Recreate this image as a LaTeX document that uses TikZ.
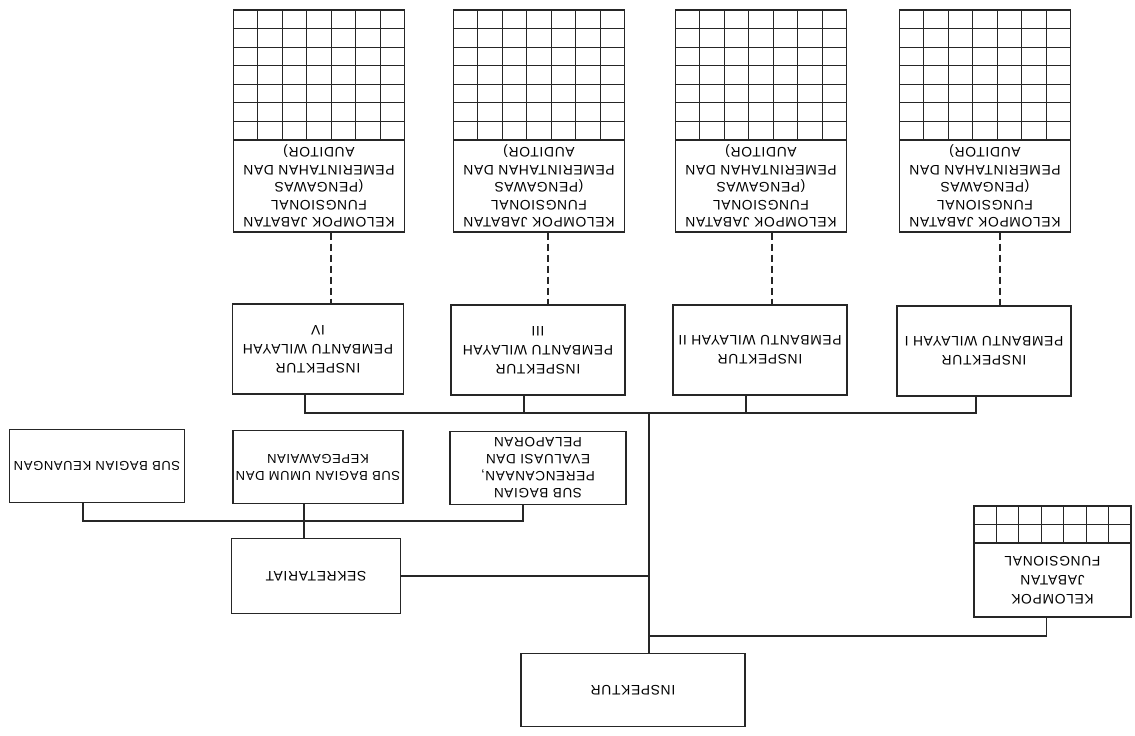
\documentclass[tikz,border=0pt]{standalone}
\usepackage{fontspec}
\setmainfont[LetterSpace=5]{Liberation Sans}
\newcommand{\gridbox}[6]{% x0, y0, w, h, rows, cols
  \draw[ln] (#1,#2) rectangle ({#1+#3},{#2+#4});
  \foreach \i in {1,...,\numexpr#6-1\relax} \draw[ln] ({#1+\i*#3/#6},#2) -- ({#1+\i*#3/#6},{#2+#4});
  \foreach \j in {1,...,\numexpr#5-1\relax} \draw[ln] (#1,{#2+\j*#4/#5}) -- ({#1+#3},{#2+\j*#4/#5});
}
\begin{document}
\begin{tikzpicture}[x=1pt,y=-1pt,
  ln/.style={line width=1.1pt, draw=black!85},
  % boxes are turned upside down: anchor "north" is at the bottom on screen
  box/.style={draw=black!85, line width=1.1pt, rotate=180, align=center, inner sep=1pt,
              font=\fontsize{13.8}{19}\selectfont},
  tight/.style={font=\fontsize{13.8}{17.5}\selectfont},
  dsh/.style={line width=1.1pt, draw=black!85, dash pattern=on 7pt off 4pt}]
\useasboundingbox (0,0) rectangle (1135,736);

% ---- top groups: KELOMPOK JABATAN FUNGSIONAL with grids
\gridbox{233.5}{10}{171}{130}{7}{7}
\gridbox{453.5}{10}{171}{130}{7}{7}
\gridbox{675.5}{10}{171}{130}{7}{7}
\gridbox{899.5}{10}{171}{130}{7}{7}
\node[box, tight, minimum width=171pt, minimum height=92pt] (kIV) at (319,186)
  {KELOMPOK JABATAN\\FUNGSIONAL\\(PENGAWAS\\PEMERINTAHAN DAN\\AUDITOR)};
\node[box, tight, minimum width=171pt, minimum height=92pt] (kIII) at (539,186)
  {KELOMPOK JABATAN\\FUNGSIONAL\\(PENGAWAS\\PEMERINTAHAN DAN\\AUDITOR)};
\node[box, tight, minimum width=171pt, minimum height=92pt] (kII) at (761,186)
  {KELOMPOK JABATAN\\FUNGSIONAL\\(PENGAWAS\\PEMERINTAHAN DAN\\AUDITOR)};
\node[box, tight, minimum width=171pt, minimum height=92pt] (kI) at (985,186)
  {KELOMPOK JABATAN\\FUNGSIONAL\\(PENGAWAS\\PEMERINTAHAN DAN\\AUDITOR)};

% ---- inspektur pembantu
\node[box, minimum width=171pt, minimum height=90pt] (ipIV) at (318,349) {INSPEKTUR\\PEMBANTU WILAYAH\\IV};
\node[box, minimum width=174pt, minimum height=90pt] (ipIII) at (538,350) {INSPEKTUR\\PEMBANTU WILAYAH\\III};
\node[box, minimum width=174pt, minimum height=90pt] (ipII) at (760,350) {INSPEKTUR\\PEMBANTU WILAYAH II};
\node[box, minimum width=174pt, minimum height=90pt] (ipI) at (984,351) {INSPEKTUR\\PEMBANTU WILAYAH I};

% ---- sub bagian
\node[box, minimum width=175pt, minimum height=73pt, font=\fontsize{13}{17}\selectfont] (sbKeu) at (97,466) {SUB BAGIAN KEUANGAN};
\node[box, minimum width=170pt, minimum height=73pt, font=\fontsize{13}{17}\selectfont] (sbUmum) at (318,467) {SUB BAGIAN UMUM DAN\\KEPEGAWAIAN};
\node[box, minimum width=176pt, minimum height=73pt, font=\fontsize{13.5}{17}\selectfont] (sbPer) at (538,468) {SUB BAGIAN\\PERENCANAAN,\\EVALUASI DAN\\PELAPORAN};

% ---- sekretariat, inspektur, kelompok jabatan fungsional
\node[box, minimum width=169pt, minimum height=75pt] (sekr) at (316,576) {SEKRETARIAT};
\node[box, minimum width=224pt, minimum height=73pt] (insp) at (633,690) {INSPEKTUR};
\gridbox{974}{506}{157}{37}{2}{7}
\node[box, minimum width=157pt, minimum height=74pt] (kjfS) at (1052.5,580) {KELOMPOK\\JABATAN\\FUNGSIONAL};

% ---- junction coordinates
\coordinate (bus) at (649,413);
\coordinate (subbus) at (304,521);
\coordinate (kjfJ) at (649,636);

% ---- dashed links
\draw[dsh] ([xshift=12pt]kIV.north) -- ([xshift=12pt]kIV.north |- ipIV.south);
\draw[dsh] ([xshift=9pt]kIII.north) -- ([xshift=9pt]kIII.north |- ipIII.south);
\draw[dsh] ([xshift=11pt]kII.north) -- ([xshift=11pt]kII.north |- ipII.south);
\draw[dsh] ([xshift=15pt]kI.north) -- ([xshift=15pt]kI.north |- ipI.south);

% ---- solid links
\draw[ln] ([xshift=-13pt]ipIV.north) |- ([xshift=-8pt]ipI.north |- bus) -- ([xshift=-8pt]ipI.north);
\draw[ln] ([xshift=-14pt]ipIII.north) -- ([xshift=-14pt]ipIII.north |- bus);
\draw[ln] ([xshift=-14pt]ipII.north) -- ([xshift=-14pt]ipII.north |- bus);
\draw[ln] (bus) -- (bus |- insp.south);
\draw[ln] ([xshift=-14pt]sbKeu.north) |- ([xshift=-15pt]sbPer.north |- subbus) -- ([xshift=-15pt]sbPer.north);
\draw[ln] ([xshift=-14pt]sbUmum.north) -- ([xshift=-14pt]sbUmum.north |- sekr.south);
\draw[ln] (sekr.west) -- (sekr.west -| bus);
\draw[ln] ([xshift=-6pt]kjfS.north) |- (kjfJ);
\end{tikzpicture}
\end{document}
